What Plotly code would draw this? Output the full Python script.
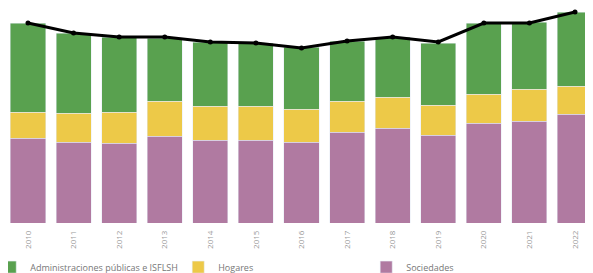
import plotly.graph_objects as go

years = [str(y) for y in range(2010, 2023)]
sociedades = [85, 81, 80, 87, 83, 83, 81, 91, 95, 88, 100, 102, 109]
hogares = [26, 29, 31, 35, 34, 34, 33, 31, 31, 30, 29, 32, 28]
admin = [89, 80, 75, 63, 64, 63, 62, 60, 60, 62, 71, 67, 74]
total = [200, 190, 186, 186, 181, 180, 175, 182, 186, 181, 200, 200, 211]

fig = go.Figure()
fig.add_trace(go.Bar(x=years, y=sociedades, name="Sociedades", marker_color="#b07aa1", legendrank=3))
fig.add_trace(go.Bar(x=years, y=hogares, name="Hogares", marker_color="#edc948", legendrank=2))
fig.add_trace(go.Bar(x=years, y=admin, name="Administraciones públicas e ISFLSH", marker_color="#59a14f", legendrank=1))
fig.add_trace(go.Scatter(x=years, y=total, mode="lines+markers", line=dict(color="black", width=3),
                         marker=dict(size=5, color="black"), showlegend=False, cliponaxis=False))

fig.update_layout(
    width=593, height=273,
    margin=dict(l=0, r=0, t=0, b=58, autoexpand=False),
    barmode="stack", bargap=0.23,
    plot_bgcolor="white", paper_bgcolor="white",
    font=dict(family="Open Sans", size=9, color="#777"),
    xaxis=dict(tickangle=-90, tickfont=dict(size=8, color="#999"), showgrid=False, showline=False, ticks="",
               range=[-0.4386, 12.57], automargin=False, ticklabelstandoff=5),
    yaxis=dict(range=[0, 215], visible=False),
    legend=dict(orientation="h", x=-0.03, xanchor="left", y=-0.205, yanchor="middle",
                traceorder="normal", entrywidth=143, font=dict(size=9, color="#777"), itemwidth=30),
)
fig.write_html("out.html")
